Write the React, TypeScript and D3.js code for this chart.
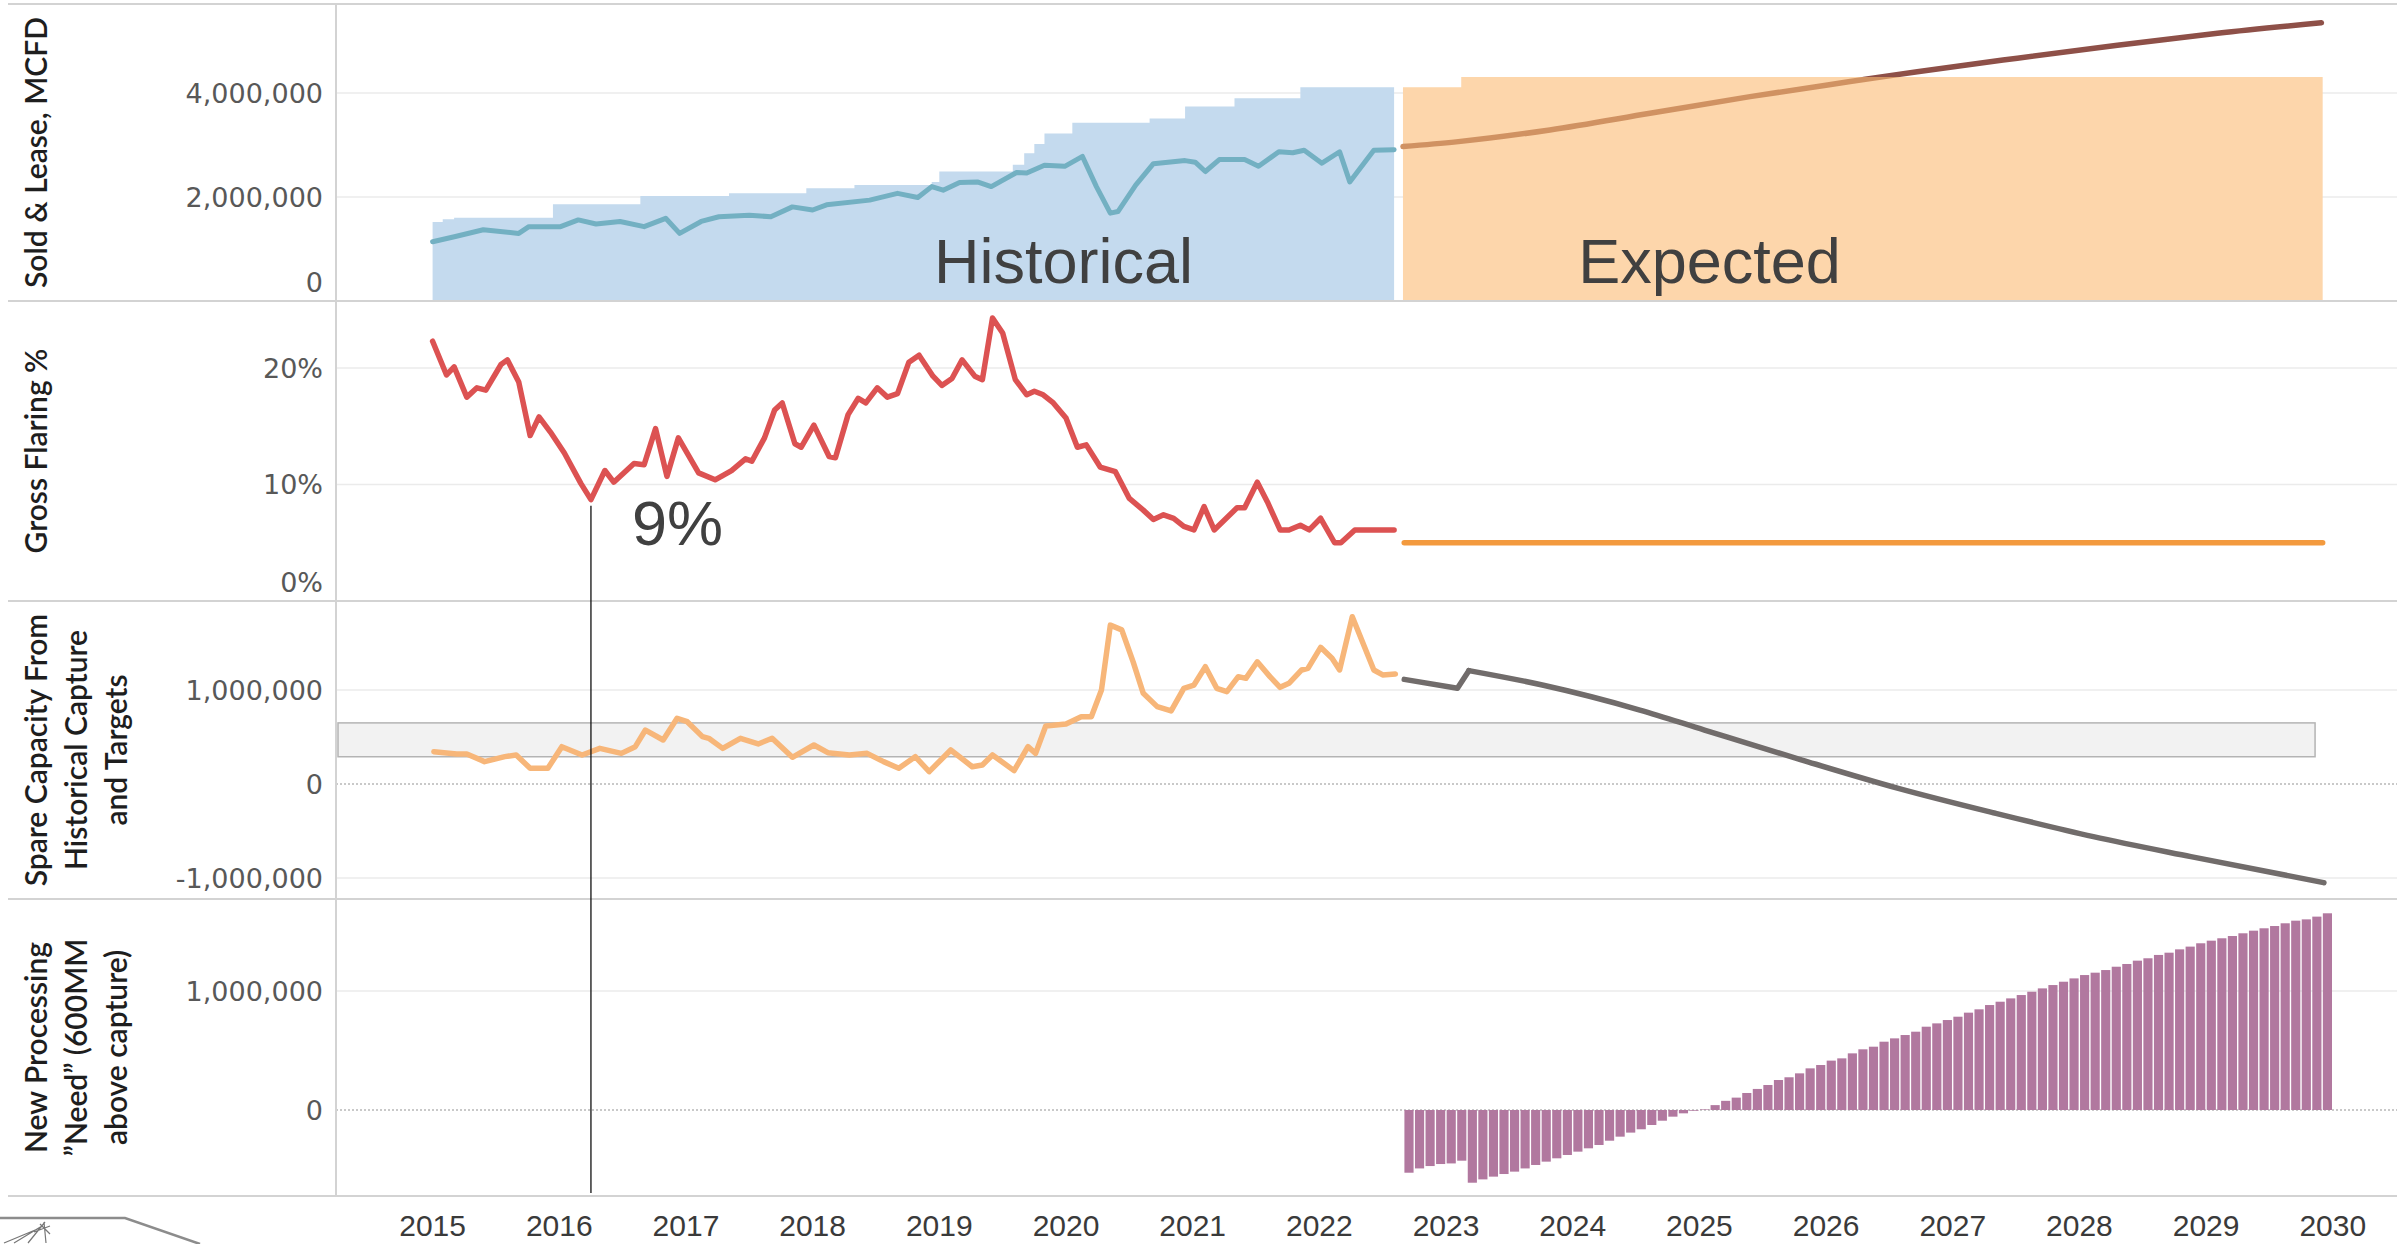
import React, { Component, createRef } from 'react'
import * as d3 from 'd3'

type Point = [number, number] // [decimal year, value]

// ---- data ----
const yearTicks = [2015, 2016, 2017, 2018, 2019, 2020, 2021, 2022, 2023, 2024, 2025, 2026, 2027, 2028, 2029, 2030]

const salesTicks = [0, 2000000, 4000000]
const flaringTicks = [0, 10, 20]
const spareTicks = [-1000000, 0, 1000000]
const needTicks = [0, 1000000]

// sold & lease, MCFD (historical)
const soldLease: Point[] = [
    [2015.0, 1140000], [2015.18, 1240000], [2015.4, 1370000], [2015.68, 1300000], [2015.76, 1430000],
    [2016.01, 1430000], [2016.15, 1560000], [2016.29, 1480000], [2016.48, 1530000], [2016.67, 1430000],
    [2016.84, 1590000], [2016.95, 1300000], [2017.12, 1530000], [2017.26, 1620000], [2017.5, 1650000],
    [2017.67, 1620000], [2017.84, 1810000], [2018.0, 1750000], [2018.11, 1850000], [2018.45, 1940000],
    [2018.67, 2070000], [2018.83, 1990000], [2018.94, 2200000], [2019.03, 2130000], [2019.16, 2280000],
    [2019.3, 2290000], [2019.41, 2200000], [2019.61, 2470000], [2019.69, 2460000], [2019.83, 2610000],
    [2019.99, 2590000], [2020.13, 2780000], [2020.24, 2200000], [2020.35, 1690000], [2020.41, 1720000],
    [2020.55, 2230000], [2020.69, 2640000], [2020.94, 2700000], [2021.02, 2670000], [2021.1, 2490000],
    [2021.21, 2720000], [2021.41, 2720000], [2021.52, 2590000], [2021.68, 2870000], [2021.79, 2850000],
    [2021.88, 2900000], [2022.02, 2650000], [2022.16, 2870000], [2022.24, 2290000], [2022.43, 2900000],
    [2022.59, 2910000],
]

// processing capacity steps (historical)
const capacityHist: Point[] = [
    [2015.0, 1520000], [2015.08, 1570000], [2015.17, 1600000], [2015.95, 1860000], [2016.64, 2020000],
    [2017.34, 2070000], [2017.95, 2170000], [2018.33, 2230000], [2018.94, 2290000], [2019.0, 2490000],
    [2019.58, 2620000], [2019.67, 2840000], [2019.75, 3020000], [2019.83, 3220000], [2020.05, 3430000],
    [2020.66, 3510000], [2020.94, 3740000], [2021.33, 3900000], [2021.85, 4110000], [2022.59, 4110000],
]

const capacityExpected: Point[] = [
    [2022.66, 4110000], [2023.12, 4310000], [2029.92, 4310000],
]

const soldLeaseExpected: Point[] = [
    [2022.66, 2970000], [2023.08, 3060000], [2023.82, 3290000], [2024.61, 3610000], [2025.4, 3930000],
    [2026.19, 4220000], [2026.72, 4410000], [2027.51, 4670000], [2028.3, 4920000], [2029.09, 5150000],
    [2029.91, 5350000],
]

// gross flaring %
const flaringHist: Point[] = [
    [2015.0, 22.3], [2015.11, 19.4], [2015.17, 20.1], [2015.27, 17.5], [2015.35, 18.3], [2015.42, 18.1],
    [2015.54, 20.3], [2015.59, 20.7], [2015.68, 18.8], [2015.77, 14.2], [2015.84, 15.8], [2015.93, 14.5],
    [2016.04, 12.7], [2016.17, 10.1], [2016.25, 8.7], [2016.36, 11.2], [2016.43, 10.2], [2016.59, 11.8],
    [2016.67, 11.7], [2016.76, 14.8], [2016.85, 10.7], [2016.94, 14.0], [2017.1, 11.0], [2017.23, 10.4],
    [2017.36, 11.2], [2017.47, 12.2], [2017.52, 12.0], [2017.62, 14.0], [2017.7, 16.4], [2017.76, 17.0],
    [2017.86, 13.5], [2017.91, 13.2], [2018.01, 15.1], [2018.13, 12.4], [2018.18, 12.3], [2018.28, 16.0],
    [2018.36, 17.4], [2018.42, 17.0], [2018.51, 18.3], [2018.59, 17.5], [2018.67, 17.8], [2018.76, 20.5],
    [2018.84, 21.1], [2018.95, 19.3], [2019.02, 18.5], [2019.1, 19.1], [2019.18, 20.7], [2019.28, 19.3],
    [2019.34, 19.0], [2019.42, 24.3], [2019.5, 23.0], [2019.6, 19.0], [2019.69, 17.7], [2019.75, 18.0],
    [2019.82, 17.7], [2019.9, 17.0], [2020.0, 15.7], [2020.09, 13.2], [2020.16, 13.4], [2020.27, 11.5],
    [2020.39, 11.1], [2020.5, 8.8], [2020.61, 7.8], [2020.69, 7.0], [2020.77, 7.4], [2020.85, 7.1],
    [2020.93, 6.4], [2021.01, 6.1], [2021.09, 8.1], [2021.17, 6.1], [2021.35, 8.0], [2021.41, 8.0],
    [2021.51, 10.2], [2021.59, 8.5], [2021.69, 6.1], [2021.76, 6.1], [2021.85, 6.5], [2021.92, 6.1],
    [2022.01, 7.1], [2022.12, 5.0], [2022.17, 5.0], [2022.28, 6.1], [2022.59, 6.1],
]

const flaringTarget: Point[] = [[2022.67, 5.0], [2029.92, 5.0]]
const lowPoint: Point = [2016.25, 8.7]

// spare capacity from historical capture and targets
const spareHist: Point[] = [
    [2015.01, 344000], [2015.19, 319000], [2015.27, 319000], [2015.41, 238000], [2015.57, 291000],
    [2015.66, 309000], [2015.77, 167000], [2015.91, 167000], [2016.02, 397000], [2016.18, 309000],
    [2016.32, 379000], [2016.49, 326000], [2016.6, 397000], [2016.68, 574000], [2016.82, 468000],
    [2016.93, 699000], [2017.01, 663000], [2017.13, 504000], [2017.18, 486000], [2017.29, 379000],
    [2017.43, 486000], [2017.57, 426000], [2017.68, 486000], [2017.84, 284000], [2018.01, 415000],
    [2018.12, 333000], [2018.29, 309000], [2018.43, 326000], [2018.56, 238000], [2018.68, 167000],
    [2018.81, 291000], [2018.92, 131000], [2019.09, 362000], [2019.26, 184000], [2019.34, 202000],
    [2019.42, 309000], [2019.59, 142000], [2019.7, 397000], [2019.76, 326000], [2019.84, 617000],
    [2020.0, 638000], [2020.12, 716000], [2020.2, 716000], [2020.28, 1000000], [2020.35, 1690000],
    [2020.44, 1640000], [2020.53, 1300000], [2020.61, 965000], [2020.72, 823000], [2020.83, 777000],
    [2020.93, 1018000], [2021.01, 1053000], [2021.1, 1248000], [2021.19, 1018000], [2021.27, 982000],
    [2021.36, 1142000], [2021.42, 1124000], [2021.51, 1300000], [2021.61, 1142000], [2021.69, 1028000],
    [2021.76, 1071000], [2021.86, 1213000], [2021.91, 1230000], [2022.01, 1454000], [2022.1, 1337000],
    [2022.16, 1213000], [2022.26, 1780000], [2022.43, 1213000], [2022.5, 1160000], [2022.6, 1170000],
]

// the projection drops, jumps once in early 2023, then declines smoothly
const spareExpectedStart: Point[] = [
    [2022.67, 1113000], [2023.09, 1018000], [2023.18, 1206000],
]
const spareExpected: Point[] = [
    [2023.18, 1206000], [2023.76, 1053000], [2024.53, 787000],
    [2025.04, 574000], [2025.81, 255000], [2026.57, -46000], [2027.34, -312000], [2028.11, -560000],
    [2028.88, -773000], [2029.93, -1050000],
]

const spareBand = [290000, 650000]
const spareBandEnd = 2029.86

// new processing "need", one bar per month from Sep 2022
const needStart = 2022 + 8 / 12
const needValues = [
    -527000, -491000, -471000, -454000, -449000, -426000, -611000, -583000, -560000, -538000,
    -518000, -491000, -462000, -434000, -406000, -378000, -350000, -322000, -294000, -258000,
    -224000, -190000, -162000, -126000, -90000, -56000, -28000, -6000, 5000, 41000,
    77000, 104000, 143000, 177000, 210000, 252000, 275000, 308000, 350000, 378000,
    415000, 434000, 476000, 510000, 532000, 574000, 602000, 630000, 658000, 700000,
    728000, 756000, 784000, 818000, 846000, 882000, 910000, 938000, 966000, 994000,
    1022000, 1050000, 1078000, 1106000, 1134000, 1154000, 1176000, 1204000, 1227000, 1255000,
    1275000, 1303000, 1322000, 1350000, 1373000, 1401000, 1423000, 1443000, 1462000, 1485000,
    1507000, 1527000, 1546000, 1569000, 1591000, 1602000, 1625000, 1653000,
]

const tickFont = "'DejaVu Sans', sans-serif"
const titleFont = "Lato, 'Noto Sans', sans-serif"
const bigFont = "'Liberation Sans', Arial, sans-serif"

// plain hyphen for negatives, like the original
const numFmt = d3.formatLocale({ decimal: '.', thousands: ',', grouping: [3], currency: ['', ''], minus: '-' }).format(',')

class FlaringChart extends Component {

    private container = createRef<SVGSVGElement>()
    private width = 2397
    private height = 1244
    private labelEdge = 336
    private panelTops = [4, 301, 601, 899]
    private panelBottoms = [301, 601, 899, 1196]

    componentDidMount() {
        this.drawChart()
    }

    drawChart() {
        const svg = d3.select(this.container.current)
        svg.selectAll('*').remove()

        const x = d3.scaleLinear().domain([2015, 2030]).range([432.6, 2332.8])

        const ySales = d3.scaleLinear().domain([0, 4000000]).range([301, 93])
        const yFlare = d3.scaleLinear().domain([0, 20]).range([601, 368])
        const ySpare = d3.scaleLinear().domain([-1000000, 1000000]).range([878, 690])
        const yNeed = d3.scaleLinear().domain([0, 1000000]).range([1110, 991])

        const panels = [
            { y: ySales, ticks: salesTicks, fmt: numFmt, title: ['Sold & Lease, MCFD'] },
            { y: yFlare, ticks: flaringTicks, fmt: (d: number) => d + '%', title: ['Gross Flaring %'] },
            { y: ySpare, ticks: spareTicks, fmt: numFmt, title: ['Spare Capacity From', 'Historical Capture', 'and Targets'] },
            { y: yNeed, ticks: needTicks, fmt: numFmt, title: ['New Processing', '\u201DNeed\u201D (600MM', 'above capture)'] },
        ]

        // gridlines and zero lines
        panels.forEach((p, i) => {
            p.ticks.forEach(t => {
                const yy = p.y(t)
                if (Math.abs(yy - this.panelBottoms[i]) < 2) return
                svg.append('line')
                    .attr('x1', this.labelEdge).attr('x2', this.width)
                    .attr('y1', yy).attr('y2', yy)
                    .attr('stroke', t === 0 ? '#b8b8b8' : '#ebebeb')
                    .attr('stroke-width', t === 0 ? 1.4 : 1.6)
                    .attr('stroke-dasharray', t === 0 ? '2,2' : null)
            })
        })

        // reference band in spare capacity panel
        svg.append('rect')
            .attr('x', this.labelEdge + 2)
            .attr('y', ySpare(spareBand[1]))
            .attr('width', x(spareBandEnd) - this.labelEdge - 2)
            .attr('height', ySpare(spareBand[0]) - ySpare(spareBand[1]))
            .attr('fill', '#f2f2f2')
            .attr('stroke', '#b4b4b4')
            .attr('stroke-width', 1.5)

        // capacity areas
        const capArea = d3.area<Point>()
            .x(d => x(d[0]))
            .y0(ySales(0))
            .y1(d => ySales(d[1]))
            .curve(d3.curveStepAfter)

        svg.append('path').datum(capacityHist)
            .attr('d', capArea)
            .attr('fill', '#c4daee')

        svg.append('path').datum(capacityExpected)
            .attr('d', capArea)
            .attr('fill', '#fdd6ab')

        const lineOf = (y: d3.ScaleLinear<number, number>, curve: d3.CurveFactory = d3.curveLinear) =>
            d3.line<Point>().x(d => x(d[0])).y(d => y(d[1])).curve(curve)

        const drawLine = (data: Point[], path: d3.Line<Point>, colour: string, width: number, clip?: string) =>
            svg.append('path').datum(data)
                .attr('d', path)
                .attr('fill', 'none')
                .attr('stroke', colour)
                .attr('stroke-width', width)
                .attr('stroke-linejoin', 'round')
                .attr('stroke-linecap', 'round')
                .attr('clip-path', clip ? `url(#${clip})` : null)

        drawLine(soldLease, lineOf(ySales), '#73b0c2', 5)

        // expected line: tan inside the capacity area, brown above it
        const capTop = ySales(d3.max(capacityExpected, d => d[1]) || 0)
        const defs = svg.append('defs')
        defs.append('clipPath').attr('id', 'belowCap')
            .append('rect').attr('x', 0).attr('y', capTop).attr('width', this.width).attr('height', 400)
        defs.append('clipPath').attr('id', 'aboveCap')
            .append('rect').attr('x', 0).attr('y', 0).attr('width', this.width).attr('height', capTop)
        drawLine(soldLeaseExpected, lineOf(ySales, d3.curveMonotoneX), '#d09262', 5.5, 'belowCap')
        drawLine(soldLeaseExpected, lineOf(ySales, d3.curveMonotoneX), '#8e5048', 5.5, 'aboveCap')

        drawLine(flaringHist, lineOf(yFlare), '#dc5252', 5.5)
        drawLine(flaringTarget, lineOf(yFlare), '#f39a3e', 5.5)

        drawLine(spareHist, lineOf(ySpare), '#f7b679', 5.5)
        drawLine(spareExpectedStart, lineOf(ySpare), '#716c6b', 5.5)
        drawLine(spareExpected, lineOf(ySpare, d3.curveMonotoneX), '#716c6b', 5.5)

        // need bars
        const month = 1 / 12
        svg.selectAll('.need')
            .data(needValues)
            .enter().append('rect')
            .attr('class', 'need')
            .attr('x', (_d, i) => x(needStart + i * month) + 0.6)
            .attr('width', (_d, i) => x(needStart + (i + 1) * month) - x(needStart + i * month) - 1.4)
            .attr('y', d => yNeed(Math.max(d, 0)))
            .attr('height', d => Math.abs(yNeed(d) - yNeed(0)))
            .attr('fill', '#b1789f')

        // panel separators
        const seps = [this.panelTops[0]].concat(this.panelBottoms)
        seps.forEach(s => {
            svg.append('line')
                .attr('x1', 8).attr('x2', this.width)
                .attr('y1', s).attr('y2', s)
                .attr('stroke', '#d3d3d3').attr('stroke-width', 2)
        })
        svg.append('line')
            .attr('x1', this.labelEdge).attr('x2', this.labelEdge)
            .attr('y1', this.panelTops[0]).attr('y2', this.panelBottoms[3])
            .attr('stroke', '#d3d3d3').attr('stroke-width', 2)

        // 9% annotation
        svg.append('line')
            .attr('x1', x(lowPoint[0])).attr('x2', x(lowPoint[0]))
            .attr('y1', yFlare(lowPoint[1]) + 6).attr('y2', this.panelBottoms[3] - 3)
            .attr('stroke', '#111').attr('stroke-width', 1.3)

        svg.append('text')
            .attr('x', x(lowPoint[0]) + 41).attr('y', 545)
            .attr('font-family', bigFont).attr('font-size', 63)
            .attr('fill', '#404040')
            .text('9%')

        svg.append('text')
            .attr('x', x(2019.98)).attr('y', 283)
            .attr('text-anchor', 'middle')
            .attr('font-family', bigFont).attr('font-size', 63)
            .attr('fill', '#404040')
            .text('Historical')

        svg.append('text')
            .attr('x', x(2025.08)).attr('y', 283)
            .attr('text-anchor', 'middle')
            .attr('font-family', bigFont).attr('font-size', 63)
            .attr('fill', '#404040')
            .text('Expected')

        // tick labels and titles
        panels.forEach((p, i) => {
            const top = this.panelTops[i]
            const bottom = this.panelBottoms[i]
            p.ticks.forEach(t => {
                const yy = Math.max(top + 19, Math.min(p.y(t), bottom - 19))
                svg.append('text')
                    .attr('x', 323).attr('y', yy).attr('dy', '0.36em')
                    .attr('text-anchor', 'end')
                    .attr('font-family', tickFont).attr('font-size', 27)
                    .attr('fill', '#585858')
                    .text(p.fmt(t))
            })
            const cy = (top + bottom) / 2
            p.title.forEach((line, j) => {
                svg.append('text')
                    .attr('transform', `translate(${47 + j * 40},${cy}) rotate(-90)`)
                    .attr('text-anchor', 'middle')
                    .attr('font-family', titleFont).attr('font-size', 30)
                    .attr('font-weight', 600)
                    .attr('fill', '#1e1e1e')
                    .text(line)
            })
        })

        // year labels
        svg.selectAll('.year')
            .data(yearTicks)
            .enter().append('text')
            .attr('class', 'year')
            .attr('x', d => x(d)).attr('y', 1236)
            .attr('text-anchor', 'middle')
            .attr('font-family', bigFont).attr('font-size', 30)
            .attr('fill', '#3a3a3a')
            .text(d => d)

        // stray bits of the screenshot at the bottom left
        svg.append('path')
            .attr('d', 'M0,1218 H125 L200,1244')
            .attr('fill', 'none').attr('stroke', '#8c8c8c').attr('stroke-width', 2.5)
        svg.append('path')
            .attr('d', 'M4,1243 L40,1228 M14,1243 L42,1226 M28,1243 L45,1222 M40,1224 L50,1234 M34,1232 L50,1226 M44,1222 L46,1243')
            .attr('fill', 'none').attr('stroke', '#777').attr('stroke-width', 1.2)
    }

    render() {
        return (
            <svg
                ref={this.container}
                width={this.width}
                height={this.height}
                style={{ position: 'absolute', left: 0, top: 0, display: 'block', background: '#fff' }}
            />
        )
    }
}

export default function App() {
    return <FlaringChart />
}
